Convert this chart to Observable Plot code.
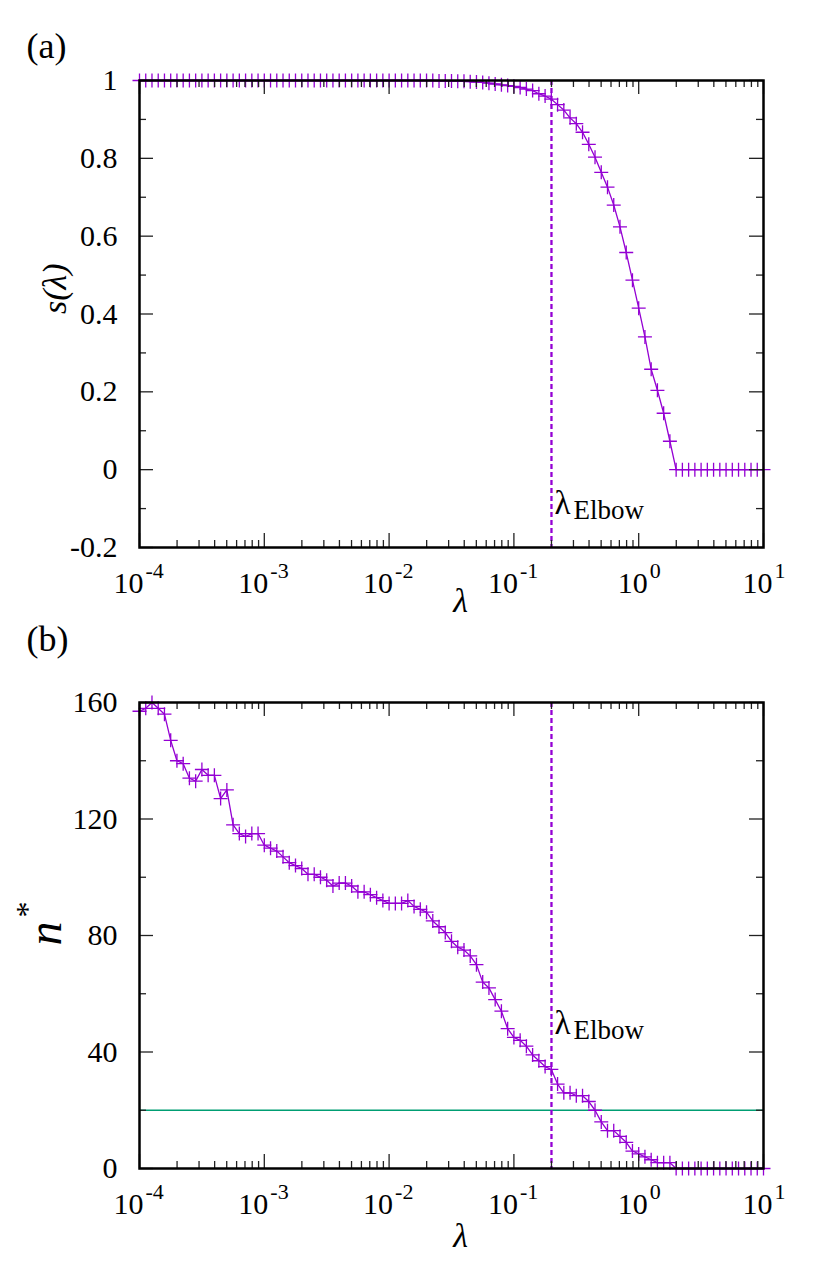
<!DOCTYPE html>
<html>
<head>
<meta charset="utf-8">
<script src="https://cdn.jsdelivr.net/npm/d3@7"></script>
<script src="https://cdn.jsdelivr.net/npm/@observablehq/plot@0.6"></script>
<style>
  html, body { margin: 0; padding: 0; background: #fff; }
  #root { width: 829px; height: 1287px; overflow: hidden; background: #fff; }
  #root svg { display: block; }
  #root svg text { font-family: "Liberation Serif", "Tinos", "Noto Serif", "Nimbus Roman", "Nimbus Roman No9 L", "FreeSerif", "Times New Roman", "Times", "DejaVu Serif", "Bitstream Vera Serif", serif !important; }
</style>
</head>
<body>
<div id="root"></div>
<script>
// ---------------- data ----------------
const lambdaExponents = [
  -4.00,-3.95,-3.90,-3.85,-3.80,-3.75,-3.70,-3.65,-3.60,-3.55,
  -3.50,-3.45,-3.40,-3.35,-3.30,-3.25,-3.20,-3.15,-3.10,-3.05,
  -3.00,-2.95,-2.90,-2.85,-2.80,-2.75,-2.70,-2.65,-2.60,-2.55,
  -2.50,-2.45,-2.40,-2.35,-2.30,-2.25,-2.20,-2.15,-2.10,-2.05,
  -2.00,-1.95,-1.90,-1.85,-1.80,-1.75,-1.70,-1.65,-1.60,-1.55,
  -1.50,-1.45,-1.40,-1.35,-1.30,-1.25,-1.20,-1.15,-1.10,-1.05,
  -1.00,-0.95,-0.90,-0.85,-0.80,-0.75,-0.70,-0.65,-0.60,-0.55,
  -0.50,-0.45,-0.40,-0.35,-0.30,-0.25,-0.20,-0.15,-0.10,-0.05,
   0.00, 0.05, 0.10, 0.15, 0.20, 0.25, 0.30, 0.35, 0.40, 0.45,
   0.50, 0.55, 0.60, 0.65, 0.70, 0.75, 0.80, 0.85, 0.90, 0.95,
   1.00
];

const sValues = [
  1,1,1,1,1,1,1,1,1,1,
  1,1,1,1,1,1,1,1,1,1,
  1,1,1,1,1,1,1,1,1,1,
  1,1,1,1,1,1,1,1,1,1,
  1,1,1,1,1,1,1,1,0.999,0.999,
  0.999,0.998,0.998,0.997,0.996,0.995,0.993,0.991,0.989,0.987,
  0.985,0.982,0.978,0.974,0.966,0.960,0.952,0.938,0.924,0.904,
  0.889,0.867,0.836,0.803,0.764,0.726,0.680,0.624,0.558,0.487,
  0.415,0.341,0.258,0.204,0.145,0.073,0,0,0,0,
  0,0,0,0,0,0,0,0,0,0,
  0
];

const nValues = [
  157,158,160,158,156,147,140,139,134,133,
  137,135,135,127,130,118,115,114,115,115,
  111,110,109,107,105,104,103,101,101,100,
  99,97,98,98,97,95,95,94,93,92,
  91,91,91,92,90,89,88,85,83,81,
  78,76,75,73,70,64,62,58,54,48,
  45,44,42,39,37,35,34,29,26,26,
  25,25,23,20,16,13,13,11,9,6,
  5,4,3,2,2,2,0,0,0,0,
  0,0,0,0,0,0,0,0,0,0,
  0
];

const elbowLambda = 0.2;
const nThreshold = 20;

const decadeExponents = [-4, -3, -2, -1, 0, 1];
const decadeExponentLabels = ["-4", "-3", "-2", "-1", "0", "1"];
const minorMantissas = [2, 3, 4, 5, 6, 7, 8, 9];

const sMajorTicks = [-0.2, 0, 0.2, 0.4, 0.6, 0.8, 1];
const sMinorTicks = [-0.1, 0.1, 0.3, 0.5, 0.7, 0.9];
const sTickLabels = ["-0.2", "0", "0.2", "0.4", "0.6", "0.8", "1"];

const nMajorTicks = [0, 40, 80, 120, 160];
const nMinorTicks = [20, 60, 100, 140];
const nTickLabels = ["0", "40", "80", "120", "160"];

// ---------------- styling ----------------
const PURPLE = "#9400d3";
const GREEN = "#009e73";
const TICK = "#222";
const FONT = "Liberation Serif, Tinos, Noto Serif, DejaVu Serif, serif";
const W = 829, ML = 139, MR = 66;

const lambdas = lambdaExponents.map(e => Math.pow(10, e));
const sData = lambdas.map((l, i) => ({lambda: l, value: sValues[i]}));
const nData = lambdas.map((l, i) => ({lambda: l, value: nValues[i]}));

const decades = decadeExponents.map((e, i) => ({v: Math.pow(10, e), label: decadeExponentLabels[i], neg: e < 0}));
const majorX = decades.map(d => d.v);
const minorX = decadeExponents.slice(0, -1).flatMap(e => minorMantissas.map(m => m * Math.pow(10, e)));

const plusSymbol = {
  draw(ctx, size) {
    const r = Math.sqrt(size / Math.PI);
    ctx.moveTo(-r, 0); ctx.lineTo(r, 0);
    ctx.moveTo(0, -r); ctx.lineTo(0, r);
  }
};

function tickMarks(fh, fw, majorY, minorY) {
  const MAJ = 14, MIN = 7;
  const o = {stroke: TICK, strokeWidth: 1.3};
  return [
    Plot.tickX(majorX, {x: d => d, insetTop: fh - MAJ, ...o}),
    Plot.tickX(majorX, {x: d => d, insetBottom: fh - MAJ, ...o}),
    Plot.tickX(minorX, {x: d => d, insetTop: fh - MIN, ...o}),
    Plot.tickX(minorX, {x: d => d, insetBottom: fh - MIN, ...o}),
    Plot.tickY(majorY, {y: d => d, insetRight: fw - MAJ, ...o}),
    Plot.tickY(majorY, {y: d => d, insetLeft: fw - MAJ, ...o}),
    Plot.tickY(minorY, {y: d => d, insetRight: fw - MIN, ...o}),
    Plot.tickY(minorY, {y: d => d, insetLeft: fw - MIN, ...o})
  ];
}

function xTickLabels() {
  const neg = decades.filter(d => d.neg), pos = decades.filter(d => !d.neg);
  const base = {frameAnchor: "bottom", lineAnchor: "bottom", fontFamily: FONT, fill: "black"};
  return [
    Plot.text(neg, {x: "v", text: () => "10", textAnchor: "end", dx: 4, dy: 45, fontSize: 30, ...base}),
    Plot.text(pos, {x: "v", text: () => "10", textAnchor: "end", dx: 9, dy: 45, fontSize: 30, ...base}),
    Plot.text(neg, {x: "v", text: "label", textAnchor: "start", dx: 6, dy: 30, fontSize: 22, ...base}),
    Plot.text(pos, {x: "v", text: "label", textAnchor: "start", dx: 11, dy: 30, fontSize: 22, ...base})
  ];
}

function yTickLabels(ticks, labels) {
  return Plot.text(ticks, {
    y: d => d, text: (d, i) => labels[i], frameAnchor: "left", textAnchor: "end",
    dx: -22, fontSize: 30, fontFamily: FONT, fill: "black"
  });
}

function elbowLabel(dyL) {
  return [
    Plot.text([elbowLambda], {x: d => d, text: () => "λ", frameAnchor: "bottom", lineAnchor: "bottom",
      textAnchor: "start", dx: 3, dy: dyL, fontSize: 33, fontFamily: FONT, fill: "black"}),
    Plot.text([elbowLambda], {x: d => d, text: () => "Elbow", frameAnchor: "bottom", lineAnchor: "bottom",
      textAnchor: "start", dx: 22, dy: dyL + 5, fontSize: 27, fontFamily: FONT, fill: "black"})
  ];
}

// ---------------- panel (a) ----------------
const H1 = 630, MT1 = 80, MB1 = 83;
const fh1 = H1 - MT1 - MB1, fw = W - ML - MR;
const chartA = Plot.plot({
  width: W, height: H1, marginTop: MT1, marginBottom: MB1, marginLeft: ML, marginRight: MR,
  x: {type: "log", domain: [1e-4, 10], axis: null},
  y: {domain: [-0.2, 1], axis: null},
  style: {fontFamily: FONT, background: "white", overflow: "visible"},
  marks: [
    Plot.ruleX([elbowLambda], {x: d => d, stroke: PURPLE, strokeWidth: 2.3, strokeDasharray: "5,3"}),
    Plot.line(sData, {x: "lambda", y: "value", stroke: PURPLE, strokeWidth: 1.3}),
    Plot.dot(sData, {x: "lambda", y: "value", symbol: plusSymbol, r: 7, fill: "none", stroke: PURPLE, strokeWidth: 1.3}),
    ...tickMarks(fh1, fw, sMajorTicks, sMinorTicks),
    Plot.frame({stroke: "black", strokeWidth: 2.5}),
    yTickLabels(sMajorTicks, sTickLabels),
    ...xTickLabels(),
    ...elbowLabel(-34),
    Plot.text(["λ"], {text: d => d, frameAnchor: "bottom", lineAnchor: "bottom", dx: 9, dy: 64,
      fontSize: 34, fontStyle: "italic", fontFamily: FONT, fill: "black"}),
    Plot.text(["s(λ)"], {text: d => d, frameAnchor: "left", rotate: -90, dx: -84,
      fontSize: 34, fontStyle: "italic", fontFamily: FONT, fill: "black"}),
    Plot.text(["(a)"], {text: d => d, frameAnchor: "top-left", lineAnchor: "bottom", textAnchor: "start",
      dx: -113, dy: -23, fontSize: 36, fontFamily: FONT, fill: "black"})
  ]
});

// ---------------- panel (b) ----------------
const H2 = 657, MT2 = 72, MB2 = 119;
const fh2 = H2 - MT2 - MB2;
const chartB = Plot.plot({
  width: W, height: H2, marginTop: MT2, marginBottom: MB2, marginLeft: ML, marginRight: MR,
  x: {type: "log", domain: [1e-4, 10], axis: null},
  y: {domain: [0, 160], axis: null},
  style: {fontFamily: FONT, background: "white", overflow: "visible"},
  marks: [
    Plot.ruleY([nThreshold], {y: d => d, stroke: GREEN, strokeWidth: 1.5}),
    Plot.ruleX([elbowLambda], {x: d => d, stroke: PURPLE, strokeWidth: 2.3, strokeDasharray: "5,3"}),
    Plot.line(nData, {x: "lambda", y: "value", stroke: PURPLE, strokeWidth: 1.3}),
    Plot.dot(nData, {x: "lambda", y: "value", symbol: plusSymbol, r: 7, fill: "none", stroke: PURPLE, strokeWidth: 1.3}),
    ...tickMarks(fh2, fw, nMajorTicks, nMinorTicks),
    Plot.frame({stroke: "black", strokeWidth: 2.5}),
    yTickLabels(nMajorTicks, nTickLabels),
    ...xTickLabels(),
    ...elbowLabel(-135),
    Plot.text(["λ"], {text: d => d, frameAnchor: "bottom", lineAnchor: "bottom", dx: 9, dy: 78,
      fontSize: 34, fontStyle: "italic", fontFamily: FONT, fill: "black"}),
    Plot.text(["n"], {text: d => d, frameAnchor: "left", rotate: -90, dx: -94, dy: 10,
      fontSize: 48, fontStyle: "italic", fontFamily: FONT, fill: "black"}),
    Plot.text(["*"], {text: d => d, frameAnchor: "left", rotate: -90, dx: -112, dy: -18,
      fontSize: 32, fontFamily: FONT, fill: "black"}),
    Plot.text(["(b)"], {text: d => d, frameAnchor: "top-left", lineAnchor: "bottom", textAnchor: "start",
      dx: -113, dy: -52, fontSize: 36, fontFamily: FONT, fill: "black"})
  ]
});

const root = document.getElementById("root");
root.appendChild(chartA);
root.appendChild(chartB);
</script>
</body>
</html>
